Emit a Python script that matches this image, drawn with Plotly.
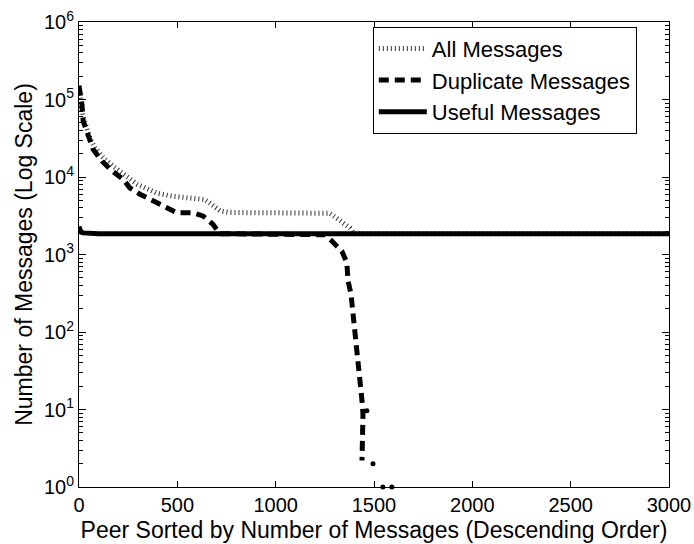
import plotly.graph_objects as go

# Messages per peer, peers sorted by message count (descending)
peer_all = [0, 10, 20, 40, 56, 80, 122, 170, 224, 295, 350, 396, 463, 530, 600, 640,
            666, 700, 717, 760, 800, 900, 1000, 1100, 1200, 1275, 1310, 1345, 1378,
            1400, 1500, 2000, 2500, 3000]
all_msgs = [150000, 95000, 62000, 42000, 32000, 24000, 18000, 14000, 11000, 8100, 7000,
            6200, 5700, 5500, 5400, 5100, 4600, 4000, 3650, 3500, 3450, 3450, 3450, 3450,
            3450, 3400, 2950, 2500, 2200, 1850, 1850, 1850, 1850, 1850]

peer_dup = [0, 8, 15, 21, 46, 71, 117, 168, 224, 259, 310, 376, 447, 498, 580, 630, 681,
            717, 760, 1000, 1250, 1286, 1310, 1337, 1362, 1368, 1383, 1393, 1398, 1408,
            1413, 1423, 1434, 1439, 1444, 1444, 1444, 1439]
dup_msgs = [150000, 110000, 87000, 53000, 34000, 23000, 16000, 12000, 9400, 7200, 6000,
            4900, 3900, 3450, 3450, 3150, 2450, 1850, 1850, 1850, 1800, 1490, 1300, 1100,
            780, 455, 310, 186, 112, 76, 52, 35, 21, 13, 8.7, 4.8, 3.2, 2.2]

# stray duplicate-count samples beyond the main drop
peer_dup_pts = [1464, 1495, 1545, 1591]
dup_pts = [9.6, 2.0, 1.0, 1.0]

peer_useful = [0, 4, 10, 20, 40, 100, 500, 1000, 1500, 2000, 2500, 3000]
useful_msgs = [2300, 2050, 1950, 1900, 1870, 1850, 1850, 1850, 1850, 1850, 1850, 1850]

y_major = [10 ** e for e in range(7)]
y_major_text = [f"10<sup>{e}</sup>" for e in range(7)]
y_minor = [m * 10 ** e for e in range(6) for m in range(2, 10)]

FONT = "Liberation Sans, Arial, Helvetica, sans-serif"

fig = go.Figure()
fig.add_trace(go.Scatter(
    x=peer_all, y=all_msgs, mode="lines", name="All Messages",
    line=dict(color="#333333", width=5, dash="1px,3px"),
))
fig.add_trace(go.Scatter(
    x=peer_dup, y=dup_msgs, mode="lines", name="Duplicate Messages",
    line=dict(color="black", width=5, dash="10px,6px"),
))
fig.add_trace(go.Scatter(
    x=peer_dup_pts, y=dup_pts, mode="markers", showlegend=False,
    marker=dict(color="black", size=5), cliponaxis=False,
))
fig.add_trace(go.Scatter(
    x=peer_useful, y=useful_msgs, mode="lines", name="Useful Messages",
    line=dict(color="black", width=5),
))

axis_common = dict(
    showgrid=False, zeroline=False, showline=True, linecolor="black", linewidth=1,
    ticks="inside", tickcolor="black", mirror="allticks", automargin=False,
    tickfont=dict(family=FONT, size=20, color="black"),
)

fig.update_xaxes(
    range=[0, 3000], tickmode="linear", tick0=0, dtick=500, ticklen=6,
    title=dict(text="Peer Sorted by Number of Messages (Descending Order)",
               font=dict(family=FONT, size=23, color="black"), standoff=6),
    **axis_common,
)
fig.update_yaxes(
    type="log", range=[0, 6], tickmode="array", tickvals=y_major, ticktext=y_major_text,
    ticklen=7,
    minor=dict(tickmode="array", tickvals=y_minor, ticks="inside", ticklen=4,
               tickcolor="black", showgrid=False),
    title=dict(text="Number of Messages (Log Scale)",
               font=dict(family=FONT, size=23, color="black"), standoff=4),
    **axis_common,
)

fig.update_layout(
    width=694, height=544,
    margin=dict(l=79, r=25, t=22, b=57, autoexpand=False),
    paper_bgcolor="white", plot_bgcolor="white",
    font=dict(family=FONT, color="black"),
    showlegend=True,
    legend=dict(
        x=0.498, y=0.99, xanchor="left", yanchor="top",
        bgcolor="white", bordercolor="black", borderwidth=1,
        font=dict(family=FONT, size=22, color="black"),
        itemwidth=48, tracegroupgap=0,
    ),
)

fig.write_html("out.html")
